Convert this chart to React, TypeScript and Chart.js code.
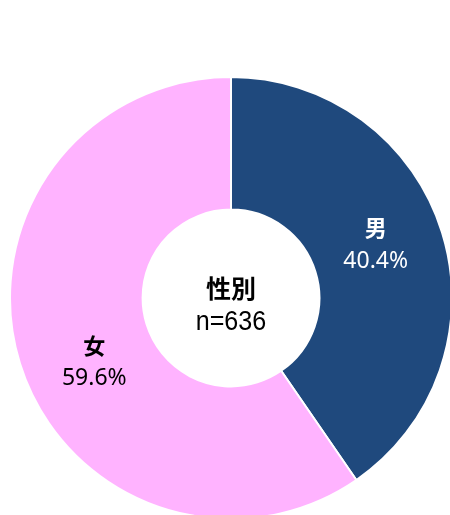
import React, { useEffect, useRef } from "react";
import { Chart, registerables } from "chart.js";

Chart.register(...registerables);

const categories = ["男", "女"];
const percents = [40.4, 59.6];
const sliceColors = ["#1F497D", "#FFB3FF"];
const labelColors = ["#FFFFFF", "#000000"];
const centerTitle = "性別";
const centerCount = "n=636";
// label placement tweaks (px) relative to each arc's center point
const labelOffsets = [
  { x: -3, y: -8 },
  { x: 11, y: 18 },
];

const labelPlugin = {
  id: "sliceLabels",
  afterDatasetsDraw(chart: any) {
    const ctx = chart.ctx;
    const meta = chart.getDatasetMeta(0);
    ctx.save();
    ctx.textAlign = "center";
    ctx.textBaseline = "middle";
    meta.data.forEach((arc: any, i: number) => {
      const p = arc.getCenterPoint();
      const x = p.x + labelOffsets[i].x;
      const y = p.y + labelOffsets[i].y;
      ctx.fillStyle = labelColors[i];
      ctx.font = 'bold 22px "Noto Sans CJK JP"';
      ctx.fillText(categories[i], x, y - 16);
      ctx.font = '23px "Noto Sans", "Noto Sans CJK JP"';
      ctx.fillText(percents[i].toFixed(1) + "%", x, y + 17);
    });
    // center text
    const a = meta.data[0];
    const cx = a.x;
    const cy = a.y;
    ctx.fillStyle = "#000000";
    ctx.font = 'bold 25px "Noto Sans CJK JP"';
    ctx.fillText(centerTitle, cx, cy - 10);
    ctx.save();
    ctx.translate(cx, cy + 25);
    ctx.scale(0.93, 1);
    ctx.font = '27px "Liberation Sans"';
    ctx.fillText(centerCount, 0, 0);
    ctx.restore();
    ctx.restore();
  },
};

export default function App() {
  const ref = useRef<HTMLCanvasElement | null>(null);
  useEffect(() => {
    if (!ref.current) return;
    const chart = new Chart(ref.current, {
      type: "doughnut",
      data: {
        labels: categories,
        datasets: [
          {
            data: percents,
            backgroundColor: sliceColors,
            borderColor: "#FFFFFF",
            borderWidth: 2,
            radius: 221,
          } as any,
        ],
      },
      options: {
        animation: false,
        responsive: true,
        maintainAspectRatio: false,
        cutout: "40%",
        layout: { padding: { left: 12, right: 0, top: 81, bottom: 0 } },
        plugins: {
          legend: { display: false },
          tooltip: { enabled: false },
        },
      },
      plugins: [labelPlugin],
    });
    return () => chart.destroy();
  }, []);
  return (
    <div
      style={{
        position: "fixed",
        left: 0,
        top: 0,
        width: 450,
        height: 515,
        background: "#FFFFFF",
      }}
    >
      <canvas ref={ref} />
    </div>
  );
}
